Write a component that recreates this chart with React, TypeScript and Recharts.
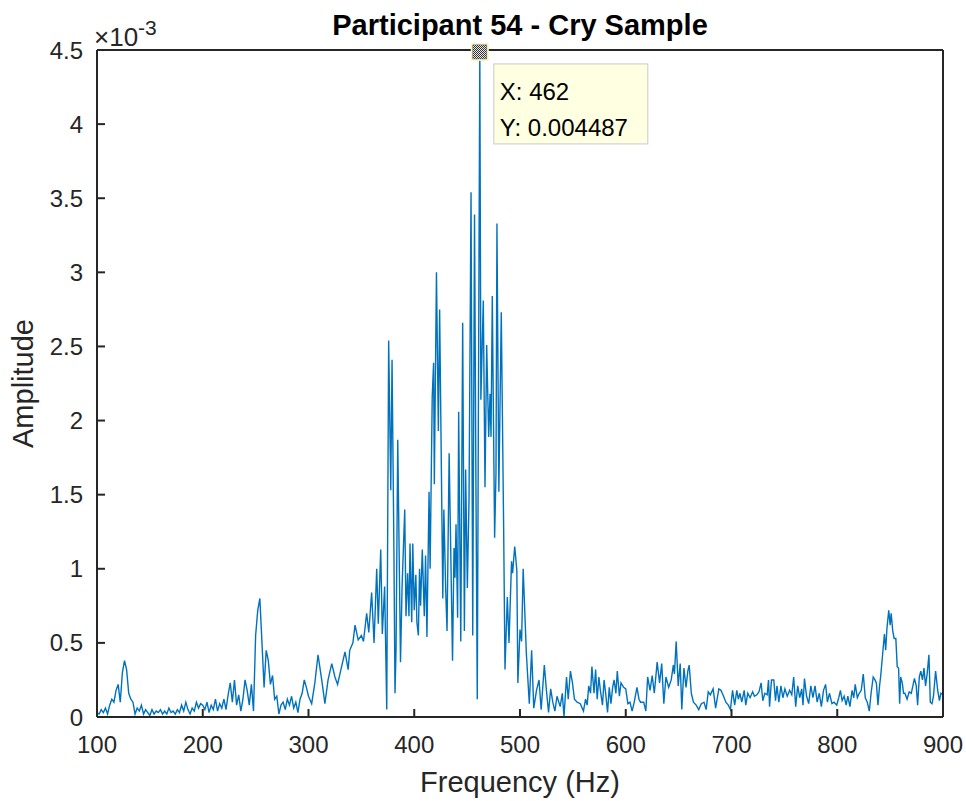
import React from "react";
import { LineChart, Line, XAxis, YAxis, ReferenceDot, Label } from "recharts";

// amplitudes are in units of 1e-3 (the axis shows the x10^-3 multiplier)
const lowBandHz = [
  100, 102, 104, 106, 108, 110, 112, 114, 116, 118,
  120, 122, 124, 126, 128, 130, 132, 134, 136, 138,
  140, 142, 144, 146, 148, 150, 152, 154, 156, 158,
  160, 162, 164, 166, 168, 170, 172, 174, 176, 178,
  180, 182, 184, 186, 188, 190, 192, 194, 196, 198,
  200, 202, 204, 206, 208, 210, 212, 214, 216, 218,
  220, 222, 224, 226, 228, 230, 232, 234, 236, 238,
  240, 242, 244, 246, 248, 250, 252, 254, 256, 258,
  260, 262, 264, 266, 268, 270, 272, 274, 276, 278,
  280, 282, 284, 286, 288, 290, 292, 294, 296, 298,
  300,
];
const lowBandAmp = [
  0.03, 0.02, 0.05, 0.03, 0.06, 0.02, 0.08, 0.12, 0.1, 0.18,
  0.22, 0.1, 0.3, 0.38, 0.32, 0.16, 0.12, 0.1, 0.02, 0.06,
  0.04, 0.08, 0.02, 0.05, 0.03, 0.01, 0.05, 0.02, 0.04, 0.03,
  0.05, 0.02, 0.04, 0.02, 0.06, 0.03, 0.04, 0.02, 0.05, 0.03,
  0.08, 0.04, 0.1, 0.05, 0.02, 0.06, 0.04, 0.1, 0.06, 0.09,
  0.08, 0.05, 0.1, 0.03, 0.08, 0.05, 0.12, 0.04, 0.09, 0.06,
  0.12, 0.05, 0.15, 0.23, 0.1, 0.25, 0.08, 0.15, 0.04, 0.12,
  0.25, 0.18, 0.08, 0.22, 0.04, 0.55, 0.72, 0.8, 0.5, 0.2,
  0.45, 0.38, 0.22, 0.28, 0.12, 0.14, 0.02, 0.08, 0.1, 0.05,
  0.12, 0.08, 0.14, 0.06, 0.1, 0.03, 0.12, 0.16, 0.25, 0.2,
  0.14,
];

const cryBandHz = [
  303, 306, 309, 312.5, 315.5, 318.5, 322, 325, 327.5, 330,
  334.5, 337.5, 339, 342, 344, 347, 350, 352, 355, 357,
  359.7, 362, 363.5, 364.5, 366, 368.3, 369.8, 372, 374, 375.8,
  377.8, 379, 380.8, 381.8, 382.8, 384.4, 387, 388.5, 391, 392.2,
  393.7, 395, 396, 397.6, 398.6, 400, 401.5, 402.5, 403.9, 405,
  406, 407.6, 409.5, 410.7, 412, 414, 415, 417, 418.3, 419,
  421, 422.8, 424, 427, 428, 429.8, 431, 433, 436.2, 437.6,
  438.5, 439.5, 441, 442, 444, 445.8, 447.4, 448.6, 450.2, 451.8,
  453.7, 455.3, 457, 458.3, 459.6, 462, 463, 465.3, 466.9, 468.5,
  470.4, 471.7, 472.6, 473.8, 476, 477.3, 478.2, 480, 482.3, 484.5,
  485.8, 488, 489.6, 492, 493, 495, 497, 498, 500, 501.5,
  503, 506, 508.8, 511, 513, 515.6, 518, 520,
];
const cryBandAmp = [
  0.09, 0.23, 0.42, 0.25, 0.09, 0.25, 0.36, 0.27, 0.22, 0.3,
  0.44, 0.32, 0.45, 0.5, 0.62, 0.52, 0.55, 0.51, 0.7, 0.57,
  0.84, 0.5, 0.8, 1.0, 0.63, 1.13, 0.56, 0.88, 0.05, 2.54,
  1.53, 2.41, 1.1, 0.16, 0.46, 1.87, 0.37, 0.88, 1.4, 0.68,
  0.97, 0.68, 1.17, 0.64, 1.17, 0.72, 0.96, 0.64, 0.55, 1.0,
  0.75, 1.13, 0.68, 1.09, 0.54, 1.52, 1.0, 2.16, 2.39, 1.57,
  3.0, 1.93, 2.75, 0.8, 1.4, 0.84, 0.58, 1.78, 0.38, 1.14,
  0.94, 1.3, 0.67, 2.06, 0.51, 2.66, 0.58, 1.67, 0.87, 1.47,
  3.54, 0.55, 3.39, 1.6, 0.12, 4.487, 2.14, 2.81, 1.55, 2.51,
  1.89, 2.18, 1.89, 2.84, 1.21, 1.65, 3.33, 1.52, 2.73, 1.3,
  0.32, 0.81, 0.5, 1.05, 0.97, 1.15, 0.99, 0.23, 0.59, 0.51,
  1.0, 0.43, 0.09, 0.45, 0.06, 0.18, 0.25, 0.05,
];

const midBandHz = [
  523, 525, 527, 529, 531, 533, 535, 538, 540, 541.6,
  544, 545.6, 547.7, 549.6, 551.5, 554, 557, 560, 562, 563.5,
  565, 566.7, 568, 570, 571.5, 573, 574.6, 576, 578, 579.5,
  581, 582.8, 584.4, 586, 587.6, 589, 590.7, 592, 594, 595.5,
  598, 600, 602, 604, 606, 608, 610.6, 612.5, 614, 617,
  619, 620.7, 623, 625, 627, 629.7, 632, 634, 636, 638,
  640.6, 643, 645, 646, 647.7, 649.6, 651.5, 653, 655, 657,
  658.7, 660, 662, 664, 666.6, 669, 671.5, 674, 676, 678,
  680, 682.6, 685, 688, 690, 692.5, 694.7, 697, 699,
];
const midBandAmp = [
  0.35, 0.18, 0.03, 0.19, 0.1, 0.04, 0.14, 0.07, 0.16, 0,
  0.27, 0.12, 0.31, 0.23, 0.12, 0.1, 0.09, 0.04, 0.12, 0.08,
  0.21, 0.16, 0.34, 0.16, 0.32, 0.12, 0.27, 0.18, 0.08, 0.25,
  0.16, 0.03, 0.2, 0.09, 0.2, 0.25, 0.16, 0.31, 0.14, 0.23,
  0.2, 0.19, 0.09, 0.1, 0.04, 0.1, 0.2, 0.12, 0.1, 0.1,
  0.04, 0.27, 0.18, 0.28, 0.16, 0.37, 0.23, 0.36, 0.09, 0.27,
  0.2, 0.25, 0.35, 0.29, 0.51, 0.21, 0.36, 0.05, 0.33, 0.2,
  0.31, 0.35, 0.16, 0.1, 0.08, 0.05, 0.09, 0.1, 0.05, 0.17,
  0.15, 0.19, 0.06, 0.19, 0.18, 0.14, 0.1, 0.08, 0.05,
];

const highBandHz = [
  701, 703, 705, 706.5, 708, 709.7, 712, 713.5, 715.4, 717.6,
  720, 721.7, 724, 726, 728, 729.6, 731.5, 733.7, 735, 736,
  737.8, 740, 741.6, 743, 744.8, 746.7, 748.6, 750.5, 752.7, 755,
  757, 758.8, 760.7, 762.6, 764.5, 766.4, 767.6, 769, 771, 773,
  775, 777, 779, 781, 783, 785, 787, 789, 790.7, 792.6,
  795, 797, 799.5, 801.4, 803, 804.6, 806.5, 808.4, 810, 812,
  814, 815.6, 817, 819, 820.8, 822.7, 824.6, 826.5, 828.4, 830.3,
  832, 834, 835.7, 837, 838.5, 840, 841, 843, 844.6, 845.8,
  847, 848.7, 850, 851, 852.5, 853.8, 855.4, 856.7, 858, 859,
  860, 861.5, 862.7, 864, 866, 868, 870, 871.5, 873, 874.7,
  876, 877.6, 879, 880.6, 882, 883.5, 885, 886.7, 888, 889.6,
  891, 893, 895, 896.6, 898, 900,
];
const highBandAmp = [
  0.18, 0.08, 0.18, 0.12, 0.16, 0.1, 0.18, 0.08, 0.16, 0.13,
  0.17, 0.14, 0.15, 0.17, 0.23, 0.11, 0.16, 0.15, 0.25, 0.07,
  0.25, 0.25, 0.11, 0.21, 0.1, 0.21, 0.13, 0.19, 0.14, 0.18,
  0.15, 0.27, 0.07, 0.21, 0.13, 0.19, 0.08, 0.26, 0.14, 0.09,
  0.21, 0.13, 0.21, 0.1, 0.16, 0.07, 0.18, 0.22, 0.1, 0.16,
  0.09, 0.1, 0.08, 0.13, 0.18, 0.11, 0.14, 0.08, 0.14, 0.07,
  0.18, 0.13, 0.22, 0.13, 0.16, 0.18, 0.29, 0.13, 0.1, 0.04,
  0.16, 0.27, 0.25, 0.23, 0.08, 0.21, 0.27, 0.43, 0.56, 0.45,
  0.6, 0.72, 0.62, 0.7, 0.58, 0.53, 0.53, 0.34, 0.33, 0.09,
  0.27, 0.23, 0.16, 0.16, 0.12, 0.17, 0.16, 0.21, 0.26, 0.21,
  0.08, 0.27, 0.31, 0.25, 0.33, 0.21, 0.29, 0.42, 0.1, 0.09,
  0.14, 0.31, 0.18, 0.11, 0.16, 0.15,
];

const xTicks = [100, 200, 300, 400, 500, 600, 700, 800, 900];
const yTicks = [0, 0.5, 1, 1.5, 2, 2.5, 3, 3.5, 4, 4.5];
const peakHz = 462;
const peakAmp = 4.487;

const freqHz = [...lowBandHz, ...cryBandHz, ...midBandHz, ...highBandHz];
const ampE3 = [...lowBandAmp, ...cryBandAmp, ...midBandAmp, ...highBandAmp];
const data = freqHz.map((f, i) => ({ f, a: ampE3[i] }));

const FONT = "'Liberation Sans', Arial, Helvetica, sans-serif";
const INK = "#262626";
const tickStyle = { fontSize: 24, fill: INK, fontFamily: FONT };

function DataTip(props: any) {
  const { cx, cy } = props;
  if (cx == null || cy == null) return null;
  return (
    <g>
      <defs>
        <pattern id="chk" width="2" height="2" patternUnits="userSpaceOnUse">
          <rect width="2" height="2" fill="#e8e8e8" />
          <rect width="1" height="1" fill="#333" />
          <rect x="1" y="1" width="1" height="1" fill="#333" />
        </pattern>
      </defs>
      <rect x={cx - 9} y={cy - 9} width={18} height={18} fill="#fbf3c8" />
      <rect x={cx - 7} y={cy - 7} width={14} height={14} fill="url(#chk)" stroke="#555" strokeWidth={0.5} />
      <rect x={cx + 14} y={cy + 12} width={154} height={80} fill="#ffffe1" stroke="#c9c9c9" strokeWidth={1} />
      <text x={cx + 20} y={cy + 48} fontSize={24} fontFamily={FONT} fill="#000">
        X: {peakHz}
      </text>
      <text x={cx + 20} y={cy + 84} fontSize={24} fontFamily={FONT} fill="#000">
        Y: {(peakAmp / 1000).toFixed(6)}
      </text>
    </g>
  );
}

export default function App() {
  // absolutely placed so the body margin adds no scrollbar
  return (
    <div style={{ position: "absolute", left: 0, top: 0, width: 966, height: 801, background: "#fff" }}>
      <div
        style={{
          position: "absolute",
          left: 220,
          width: 600,
          top: 9,
          textAlign: "center",
          fontFamily: FONT,
          fontWeight: "bold",
          fontSize: 29,
          color: "#000",
          whiteSpace: "nowrap",
        }}
      >
        Participant 54 - Cry Sample
      </div>
      <div
        style={{
          position: "absolute",
          left: 94,
          top: 16,
          fontFamily: FONT,
          fontSize: 26,
          color: INK,
          whiteSpace: "nowrap",
        }}
      >
        ×10<sup style={{ fontSize: 21, verticalAlign: "11px" }}>-3</sup>
      </div>
      <LineChart width={966} height={801} data={data} margin={{ top: 49, right: 22, bottom: 24, left: 17 }}>
        <XAxis
          dataKey="f"
          type="number"
          domain={[100, 900]}
          ticks={xTicks}
          allowDataOverflow
          height={60}
          stroke={INK}
          strokeWidth={2}
          tickSize={-8}
          tickMargin={27}
          tick={tickStyle}
        >
          <Label
            content={({ viewBox }: any) => (
              <text
                x={viewBox.x + viewBox.width / 2}
                y={viewBox.y + 75}
                textAnchor="middle"
                fontSize={29}
                fontFamily={FONT}
                fill={INK}
              >
                Frequency (Hz)
              </text>
            )}
          />
        </XAxis>
        <XAxis
          xAxisId="top"
          dataKey="f"
          orientation="top"
          type="number"
          domain={[100, 900]}
          ticks={xTicks}
          allowDataOverflow
          height={1}
          stroke={INK}
          strokeWidth={2}
          tickSize={-8}
          tick={false}
        />
        <YAxis
          type="number"
          domain={[0, 4.5]}
          ticks={yTicks}
          allowDataOverflow
          width={80}
          stroke={INK}
          strokeWidth={2}
          tickSize={-8}
          tickMargin={22}
          tick={tickStyle}
        >
          <Label
            content={({ viewBox }: any) => {
              const cx = viewBox.x + 8;
              const cy = viewBox.y + viewBox.height / 2;
              return (
                <text
                  x={cx}
                  y={cy}
                  transform={`rotate(-90 ${cx} ${cy})`}
                  textAnchor="middle"
                  dominantBaseline="middle"
                  fontSize={29}
                  fontFamily={FONT}
                  fill={INK}
                >
                  Amplitude
                </text>
              );
            }}
          />
        </YAxis>
        <YAxis
          yAxisId="right"
          orientation="right"
          type="number"
          domain={[0, 4.5]}
          ticks={yTicks}
          allowDataOverflow
          width={1}
          stroke={INK}
          strokeWidth={2}
          tickSize={-8}
          tick={false}
        />
        {/* invisible copy bound to the top/right axes so the box edges get drawn */}
        <Line
          xAxisId="top"
          yAxisId="right"
          dataKey="a"
          stroke="none"
          dot={false}
          activeDot={false}
          legendType="none"
          isAnimationActive={false}
        />
        <Line
          type="linear"
          dataKey="a"
          stroke="#0072BD"
          strokeWidth={1.4}
          dot={false}
          isAnimationActive={false}
        />
        <ReferenceDot x={peakHz} y={peakAmp} r={8} shape={DataTip} />
      </LineChart>
    </div>
  );
}
